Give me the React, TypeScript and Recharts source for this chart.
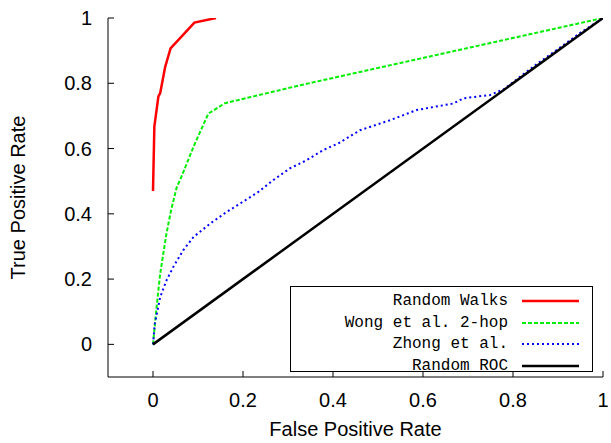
import React from 'react';
import { LineChart, Line, XAxis, YAxis } from 'recharts';

// ROC curves (x = false positive rate, y = true positive rate)
const walksFpr = [0, 0.002, 0.003, 0.012, 0.016, 0.027, 0.039, 0.092, 0.14];
const walksTpr = [0.47, 0.6, 0.667, 0.76, 0.77, 0.85, 0.907, 0.986, 1.0];

const wongFpr = [0, 0.008, 0.016, 0.03, 0.04, 0.053, 0.06, 0.075, 0.093, 0.123, 0.16, 0.327, 1];
const wongTpr = [0, 0.115, 0.217, 0.34, 0.41, 0.483, 0.503, 0.554, 0.615, 0.707, 0.739, 0.794, 1];

const zhongFpr = [0, 0.004, 0.016, 0.03, 0.045, 0.067, 0.09, 0.127, 0.164, 0.193, 0.234, 0.267, 0.304, 0.341, 0.378, 0.412, 0.46, 0.527, 0.586, 0.667, 0.69, 0.749, 0.78, 0.85, 0.9, 0.95, 1];
const zhongTpr = [0, 0.063, 0.145, 0.196, 0.237, 0.288, 0.329, 0.37, 0.406, 0.431, 0.467, 0.503, 0.539, 0.564, 0.595, 0.616, 0.656, 0.687, 0.718, 0.738, 0.754, 0.764, 0.782, 0.856, 0.905, 0.955, 1];

const randomFpr = [0, 1];
const randomTpr = [0, 1];

const ticks = [0, 0.2, 0.4, 0.6, 0.8, 1];

const zip = (xs: number[], ys: number[]) => xs.map((x, i) => ({ x, y: ys[i] }));

const series = [
  { name: 'Random Walks', data: zip(walksFpr, walksTpr), color: '#ff0000', dash: undefined, width: 2.5 },
  { name: 'Wong et al. 2-hop', data: zip(wongFpr, wongTpr), color: '#00ee00', dash: '4 2', width: 2 },
  { name: 'Zhong et al.', data: zip(zhongFpr, zhongTpr), color: '#0000ff', dash: '2 3', width: 2 },
  { name: 'Random ROC', data: zip(randomFpr, randomTpr), color: '#000000', dash: undefined, width: 2.5 },
];

const FONT = '"Liberation Sans", Arial, Helvetica, sans-serif';

const BottomTick = ({ x, y, payload }: any) => (
  <g>
    <line x1={x} y1={y} x2={x} y2={y - 6} stroke="#000" />
    <text x={x} y={y + 30} textAnchor="middle" fontSize={20} fontFamily={FONT} fill="#000">
      {payload.value}
    </text>
  </g>
);

const LeftTick = ({ x, y, payload }: any) => (
  <g>
    <line x1={x} y1={y} x2={x + 6} y2={y} stroke="#000" />
    <text x={x - 16} y={y + 7} textAnchor="end" fontSize={20} fontFamily={FONT} fill="#000">
      {payload.value}
    </text>
  </g>
);

const TopTick = ({ x, y }: any) => <line x1={x} y1={y} x2={x} y2={y + 6} stroke="#000" />;
const RightTick = ({ x, y }: any) => <line x1={x} y1={y} x2={x - 6} y2={y} stroke="#000" />;

const YLabel = ({ viewBox }: any) => {
  const cx = 18;
  const cy = viewBox.y + viewBox.height / 2;
  return (
    <text x={cx} y={cy} transform={`rotate(-90 ${cx} ${cy})`} textAnchor="middle" dominantBaseline="central"
      fontSize={20} fontFamily={FONT} fill="#000">
      True Positive Rate
    </text>
  );
};

const XLabel = ({ viewBox }: any) => (
  <text x={viewBox.x + viewBox.width / 2} y={436} textAnchor="middle" fontSize={20} fontFamily={FONT} fill="#000">
    False Positive Rate
  </text>
);

export default function App() {
  return (
    <div style={{ position: 'absolute', left: 0, top: 0, width: 611, height: 443, background: '#fff' }}>
      <LineChart width={611} height={443} margin={{ top: 18, right: 8, left: 0, bottom: 0 }}>
        <XAxis xAxisId="b" type="number" dataKey="x" domain={[-0.1, 1]} ticks={ticks} allowDataOverflow
          height={66} axisLine={{ stroke: '#000' }} tickLine={false} tickSize={0} tickMargin={0}
          tick={<BottomTick />} label={<XLabel />} />
        <XAxis xAxisId="t" orientation="top" type="number" dataKey="x" domain={[-0.1, 1]} ticks={ticks}
          allowDataOverflow height={0} axisLine={{ stroke: '#000' }} tickLine={false} tickSize={0}
          tickMargin={0} tick={<TopTick />} />
        <YAxis yAxisId="l" type="number" domain={[-0.1, 1]} ticks={ticks} allowDataOverflow width={108}
          axisLine={{ stroke: '#000' }} tickLine={false} tickSize={0} tickMargin={0}
          tick={<LeftTick />} label={<YLabel />} />
        <YAxis yAxisId="r" orientation="right" type="number" domain={[-0.1, 1]} ticks={ticks}
          allowDataOverflow width={0} axisLine={{ stroke: '#000' }} tickLine={false} tickSize={0}
          tickMargin={0} tick={<RightTick />} />
        {series.map((s) => (
          <Line key={s.name} xAxisId="b" yAxisId="l" data={s.data} dataKey="y" name={s.name}
            type="linear" stroke={s.color} strokeWidth={s.width} strokeDasharray={s.dash}
            dot={false} activeDot={false} isAnimationActive={false} />
        ))}
      </LineChart>
      <div style={{ position: 'absolute', left: 290, top: 286, width: 303, height: 86, boxSizing: 'border-box',
        border: '1px solid #000', background: '#fff' }}>
        {series.map((s, i) => (
          <div key={s.name} style={{ position: 'absolute', left: 0, top: 4 + i * 21.7, width: 301, height: 20 }}>
            <span style={{ position: 'absolute', right: 301 - 217, top: 0, lineHeight: '20px',
              fontFamily: '"Liberation Mono", "Courier New", monospace', fontSize: 16, color: '#000',
              whiteSpace: 'nowrap' }}>
              {s.name}
            </span>
            <svg style={{ position: 'absolute', left: 231, top: 0 }} width={57} height={20}>
              <line x1={0} y1={10} x2={57} y2={10} stroke={s.color} strokeWidth={s.width}
                strokeDasharray={s.dash} />
            </svg>
          </div>
        ))}
      </div>
    </div>
  );
}
